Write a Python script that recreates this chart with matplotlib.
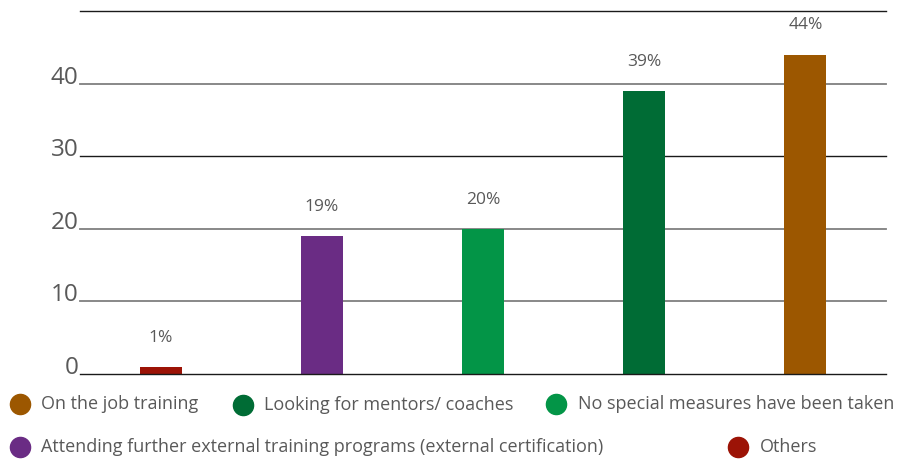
import matplotlib

matplotlib.use("Agg")
import matplotlib.pyplot as plt
from matplotlib.lines import Line2D

plt.rcParams["font.family"] = ["Open Sans", "DejaVu Sans"]

# bar order left to right
categories = [
    "Others",
    "Attending further external training programs (external certification)",
    "No special measures have been taken",
    "Looking for mentors/ coaches",
    "On the job training",
]
values = [1, 19, 20, 39, 44]
colors = ["#9C1306", "#6A2C84", "#039547", "#006C35", "#9C5700"]
yticks = [0, 10, 20, 30, 40, 50]

# legend order (flows over two rows)
legend_order = [4, 3, 2, 1, 0]
legend_pos = [(0.022, 0.124), (0.270, 0.121), (0.619, 0.124),
              (0.022, 0.030), (0.821, 0.030)]

TEXT = "#595959"

fig = plt.figure(figsize=(8.99, 4.61), dpi=100)
ax = fig.add_axes([0.089, 0.1887, 0.8965, 0.7875])

x = range(len(categories))
ax.bar(x, values, width=0.26, color=colors, zorder=3)
ax.set_xlim(-0.5, len(categories) - 0.5)
ax.set_ylim(0, 50)

for xi, v in zip(x, values):
    ax.annotate(f"{v}%", (xi, v), xytext=(0, 21), textcoords="offset points",
                ha="center", va="center", fontsize=12.5, color=TEXT)

# horizontal rules: some dark, some grey
for t in yticks:
    if t in (10, 20, 40):
        ax.axhline(t, color="#7f7f7f", lw=1.3, zorder=1, clip_on=False)
    else:
        ax.axhline(t, color="#1a1a1a", lw=1.0, zorder=4 if t == 0 else 1,
                   clip_on=False)

ax.set_yticks(yticks[:-1])
ax.set_yticklabels([str(t) for t in yticks[:-1]])
ax.tick_params(axis="y", length=0, pad=1, labelsize=17.5, labelcolor=TEXT)
for lbl in ax.get_yticklabels():
    lbl.set_verticalalignment("baseline")
ax.set_xticks([])
for s in ax.spines.values():
    s.set_visible(False)

for idx, (lx, ly) in zip(legend_order, legend_pos):
    fig.add_artist(Line2D([lx], [ly], marker="o", markersize=14.5, color=colors[idx],
                          lw=0, transform=fig.transFigure))
    fig.text(lx + 0.024, ly, categories[idx], fontsize=13, color=TEXT,
             va="center", ha="left")

fig.savefig("out.png", dpi=100)
